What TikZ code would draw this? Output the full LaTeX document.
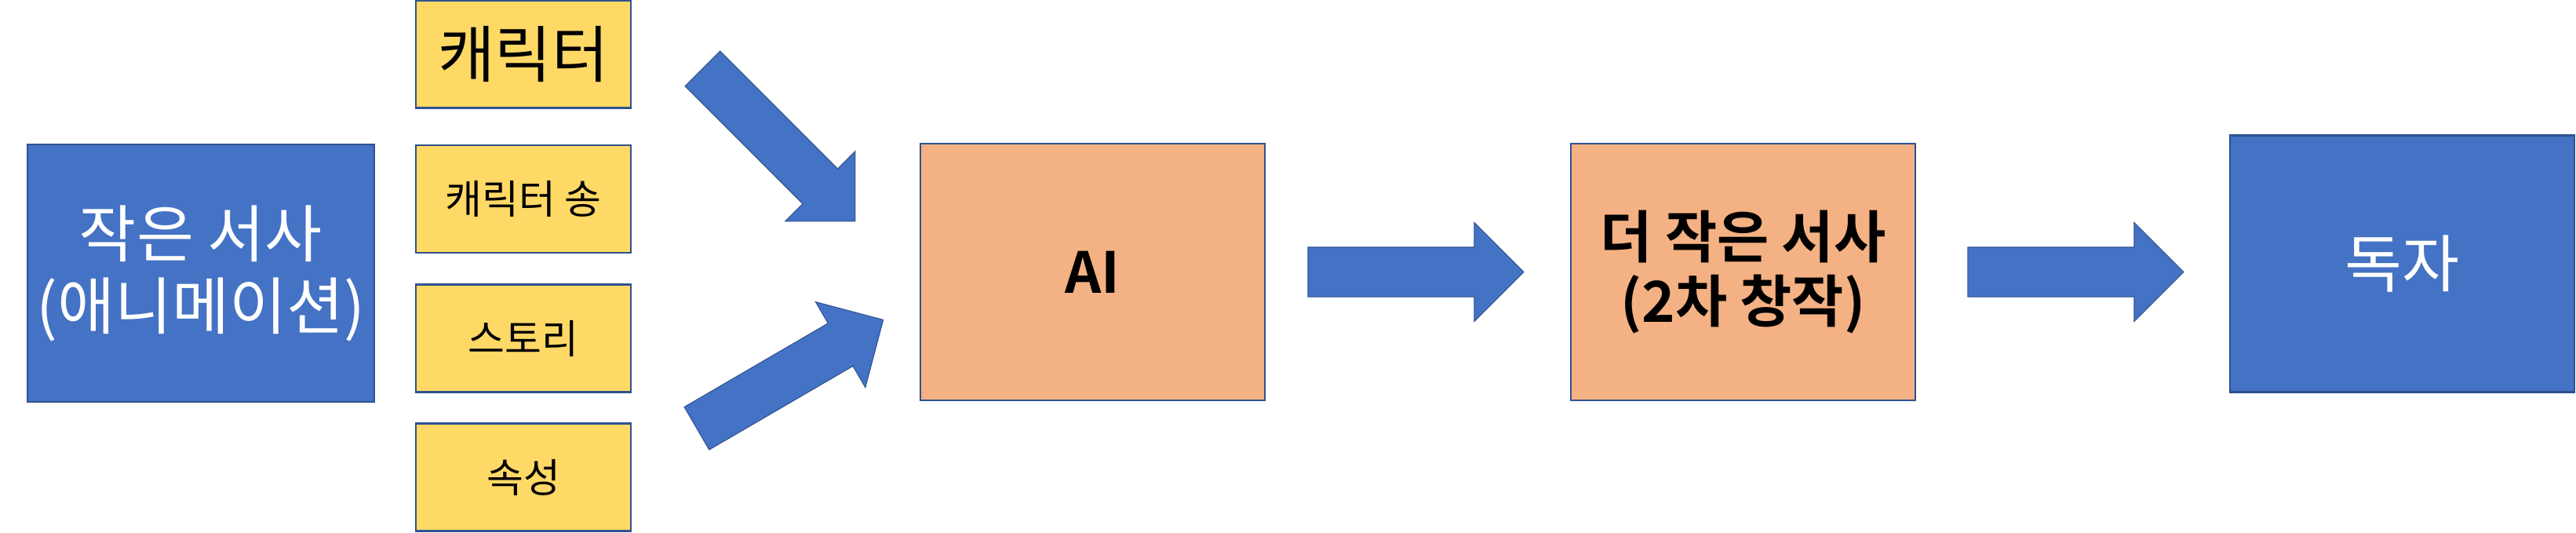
\documentclass[tikz,border=0pt]{standalone}
\usepackage{fontspec}
\setmainfont{Noto Sans CJK KR}[BoldFont={Noto Sans CJK KR Bold}]
\usetikzlibrary{shapes.arrows}
\usetikzlibrary{positioning}
\definecolor{boxblue}{HTML}{4472C4}
\definecolor{edgeblue}{HTML}{2F528F}
\definecolor{boxyellow}{HTML}{FFD966}
\definecolor{boxorange}{HTML}{F4B183}

\begin{document}
\begin{tikzpicture}[line width=0.75pt]
  \tikzset{bluebox/.style = { draw=edgeblue, fill=boxblue, text=white, inner sep=0, minimum width = 4.42cm, minimum height = 3.28cm, align=center, font=\fontsize{22.6}{26.2}\selectfont }}
  \tikzset{smallbox/.style = { draw=edgeblue, fill=boxyellow, inner sep=0, minimum width = 2.74cm, minimum height = 1.37cm, font=\fontsize{14.5}{17}\selectfont }}
  \tikzset{bigbox/.style = { draw=edgeblue, fill=boxorange, inner sep=0, minimum width = 4.39cm, minimum height = 3.27cm, align=center, font=\bfseries\fontsize{20.5}{23.5}\selectfont }}
  \tikzset{blockarrow/.style = { single arrow, draw=edgeblue, fill=boxblue, line width=0.3pt, inner xsep=0, inner ysep=0.31cm, single arrow head extend=0.315cm, single arrow tip angle=90, minimum height=2.75cm }}
  \useasboundingbox (0,0) rectangle (32.83,6.78);
%  \draw [gray, very thin] (0,0) grid (33,7);

  \node[name = src, bluebox] at (2.56,3.30) {작은 서사\\(애니메이션)};

  \node[name = chr, smallbox, font=\fontsize{22.4}{26}\selectfont] at (6.67,6.09) {캐릭터};
  \node[name = song, smallbox] at (6.67,4.245) {캐릭터 송};
  \node[name = story, smallbox] at (6.67,2.47) {스토리};
  \node[name = attr, smallbox] at (6.67,0.70) {속성};

  \node[name = inTop, blockarrow, rotate=-45, anchor=tail] at (8.95,5.91) {};
  \node[name = inBot, blockarrow, rotate=30.2, anchor=tail] at (8.875,1.32) {};

  \node[name = ai, bigbox] at (13.925,3.315) {AI};

  \node[name = outA, blockarrow, right = 0.53cm of ai] {};
  \node[name = more, bigbox, right = 0.58cm of outA] {더 작은 서사\\(2차 창작)};
  \node[name = outB, blockarrow, right = 0.65cm of more] {};

  \node[name = reader, bluebox, minimum width = 4.39cm, minimum height = 3.27cm] at (30.615,3.42) {독자};
\end{tikzpicture}
\end{document}
